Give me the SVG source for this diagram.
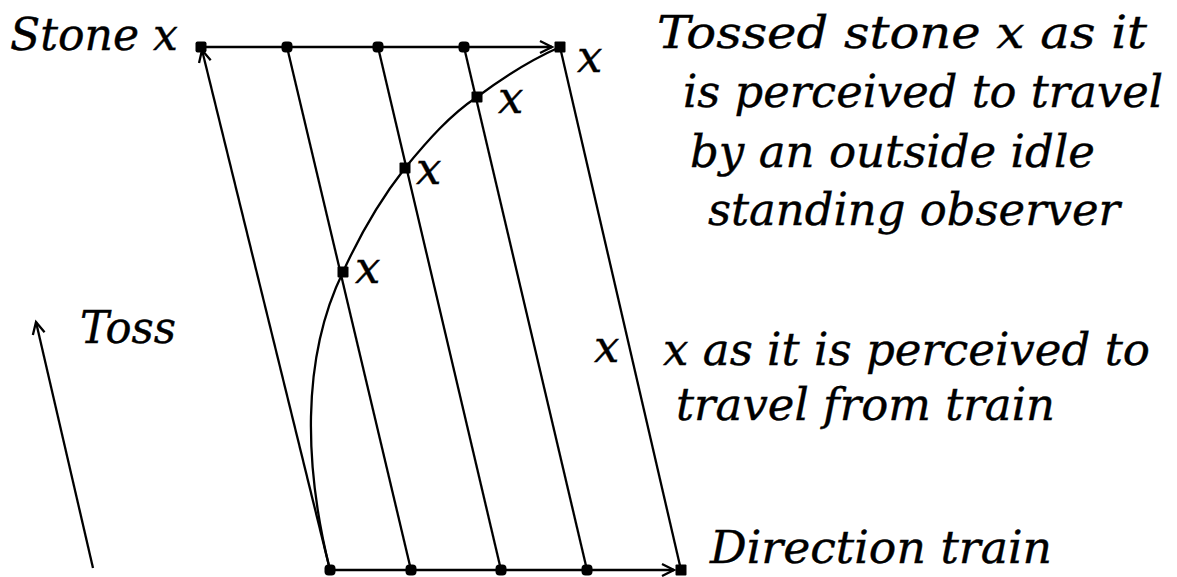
<svg xmlns="http://www.w3.org/2000/svg" width="1177" height="577" viewBox="0 0 1177 577">
<style>
.ln{stroke:#000;stroke-width:2.3;fill:none}
.t{font-family:"DejaVu Serif",serif;font-style:italic;font-size:45px;fill:#000;stroke:#000;stroke-width:0.4}
.dot{fill:#000}
</style>
<defs>
<marker id="ah" markerWidth="20" markerHeight="20" refX="14" refY="8" orient="auto" markerUnits="userSpaceOnUse">
<path d="M2,2 L14,8 L2,14" fill="none" stroke="#000" stroke-width="2.3"/>
</marker>
</defs>
<rect width="1177" height="577" fill="#fff"/>
<g id="connectors">
<line class="ln" x1="201" y1="47" x2="552" y2="47" marker-end="url(#ah)"/>
<line class="ln" x1="330" y1="570" x2="674" y2="570" marker-end="url(#ah)"/>
<line class="ln" x1="330" y1="570" x2="202" y2="50" marker-end="url(#ah)"/>
<line class="ln" x1="287" y1="47" x2="411" y2="570"/>
<line class="ln" x1="378" y1="47" x2="501" y2="570"/>
<line class="ln" x1="464" y1="47" x2="587" y2="570"/>
<line class="ln" x1="560" y1="47" x2="681" y2="570"/>
<path class="ln" d="M330,570 C305,470 300,360 343,272 C362,230 380,200 405,168 C428,140 450,115 477,97 C505,76 535,58 560,47"/>
<line class="ln" x1="93" y1="568" x2="36" y2="322" marker-end="url(#ah)"/>
</g>
<g id="points">
<rect class="dot" x="195.5" y="41.5" width="11" height="11" rx="2"/>
<rect class="dot" x="281.5" y="41.5" width="11" height="11" rx="4"/>
<rect class="dot" x="372.5" y="41.5" width="11" height="11" rx="4"/>
<rect class="dot" x="458.5" y="41.5" width="11" height="11" rx="4"/>
<rect class="dot" x="554.5" y="41.5" width="11" height="11" rx="1"/>
<rect class="dot" x="324.5" y="564.5" width="11" height="11" rx="4"/>
<rect class="dot" x="405.5" y="564.5" width="11" height="11" rx="4"/>
<rect class="dot" x="495.5" y="564.5" width="11" height="11" rx="4"/>
<rect class="dot" x="581.5" y="564.5" width="11" height="11" rx="4"/>
<rect class="dot" x="675.5" y="564.5" width="11" height="11" rx="1"/>
<rect class="dot" x="471.5" y="91.5" width="11" height="11" rx="1"/>
<rect class="dot" x="399.5" y="162.5" width="11" height="11" rx="1"/>
<rect class="dot" x="337.5" y="266.5" width="11" height="11" rx="1"/>
</g>
<g id="labels">
<text class="t" x="10" y="50" textLength="168" lengthAdjust="spacingAndGlyphs">Stone x</text>
<text class="t" x="80" y="343" textLength="96" lengthAdjust="spacingAndGlyphs">Toss</text>
<text class="t" x="577" y="72">x</text>
<text class="t" x="498" y="113">x</text>
<text class="t" x="416" y="184">x</text>
<text class="t" x="355" y="283">x</text>
<text class="t" x="594" y="362">x</text>
<text class="t" x="657" y="48" textLength="490" lengthAdjust="spacingAndGlyphs">Tossed stone x as it</text>
<text class="t" x="683" y="107" textLength="480" lengthAdjust="spacingAndGlyphs">is perceived to travel</text>
<text class="t" x="690" y="167" textLength="405" lengthAdjust="spacingAndGlyphs">by an outside idle</text>
<text class="t" x="708" y="225" textLength="412" lengthAdjust="spacingAndGlyphs">standing observer</text>
<text class="t" x="663" y="365" textLength="487" lengthAdjust="spacingAndGlyphs">x as it is perceived to</text>
<text class="t" x="676" y="420" textLength="379" lengthAdjust="spacingAndGlyphs">travel from train</text>
<text class="t" x="710" y="563" textLength="342" lengthAdjust="spacingAndGlyphs">Direction train</text>
</g>
</svg>
